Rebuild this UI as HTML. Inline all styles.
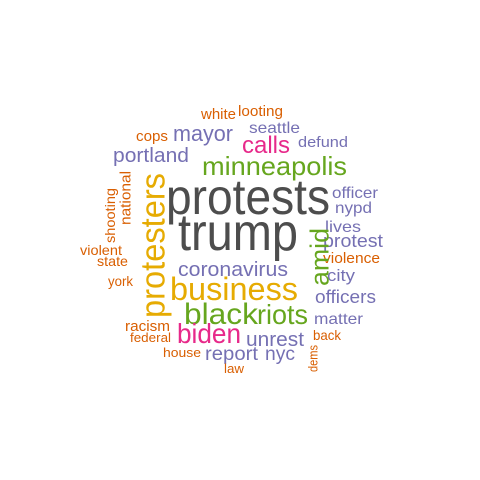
<!DOCTYPE html>
<html><head><meta charset="utf-8"><style>
html,body{margin:0;padding:0;background:#fff;}
svg{display:block;font-family:"Liberation Sans",sans-serif;}
</style></head><body>
<svg id="cloud" width="480" height="480" viewBox="0 0 480 480"></svg>
<script>
const words = ["protests","trump","minneapolis","calls","seattle","looting","white","defund","mayor","cops","portland","officer","nypd","lives","protest","violence","city","officers","matter","back","coronavirus","business","black","riots","biden","unrest","report","nyc","law","house","federal","racism","violent","state","york","dems","amid","protesters","national","shooting"];
const colors = ["#4d4d4d","#4d4d4d","#66a61e","#e7298a","#7570b3","#d95f02","#d95f02","#7570b3","#7570b3","#d95f02","#7570b3","#7570b3","#7570b3","#7570b3","#7570b3","#d95f02","#7570b3","#7570b3","#7570b3","#d95f02","#7570b3","#e6ab02","#66a61e","#66a61e","#e7298a","#7570b3","#7570b3","#7570b3","#d95f02","#d95f02","#d95f02","#d95f02","#d95f02","#d95f02","#d95f02","#d95f02","#66a61e","#e6ab02","#d95f02","#d95f02"];
const sizes = [50,52,26,24,16,15,15,15,22,15,20,16,16,16,18,15,17,18,16,14,20,32,30,28,28,20,19,19,13,13,13,15,14,14,14,13,26,34,15,14];
const spanA = [166,178,202,242,249,238,201,298,173,136,113,332,335,325,323,323,327,315,314,313,178,170,184,257,177,246,205,265,224,163,130,125,80,97,108,345,228,173,171,188];
const spanB = [330,298,347,290,300,283,236,348,233,168,189,378,372,361,383,380,355,376,363,341,288,298,258,308,241,304,258,295,244,201,171,170,122,128,133,372,286,318,225,243];
const pos = [214,250,175,153,133,116,119,147,141,141,162,198,213,232,247,263,281,303,324,340,276,300,324,324,343,346,360,360,373,357,342,331,255,266,286,313,319,152,125,110];
const vertical = [0,0,0,0,0,0,0,0,0,0,0,0,0,0,0,0,0,0,0,0,0,0,0,0,0,0,0,0,0,0,0,0,0,0,0,1,1,1,1,1];
const svg = document.getElementById('cloud');
const NS = 'http://www.w3.org/2000/svg';
words.forEach((w,i)=>{
  const t = document.createElementNS(NS,'text');
  t.textContent = w;
  
  
  t.setAttribute('fill', colors[i]);
  t.setAttribute('font-size', sizes[i]);
  t.setAttribute('textLength', spanB[i]-spanA[i]);
  t.setAttribute('lengthAdjust', 'spacingAndGlyphs');
  if (!vertical[i]) {
    t.setAttribute('x', spanA[i]);
    t.setAttribute('y', pos[i]);
  } else {
    const cy = (spanA[i]+spanB[i])/2;
    t.setAttribute('text-anchor','middle');
    t.setAttribute('x', 0);
    t.setAttribute('y', sizes[i]*0.36);
    t.setAttribute('transform', 'translate(' + pos[i] + ',' + cy + ') rotate(-90)');
  }
  svg.appendChild(t);
});
</script>
</body></html>
